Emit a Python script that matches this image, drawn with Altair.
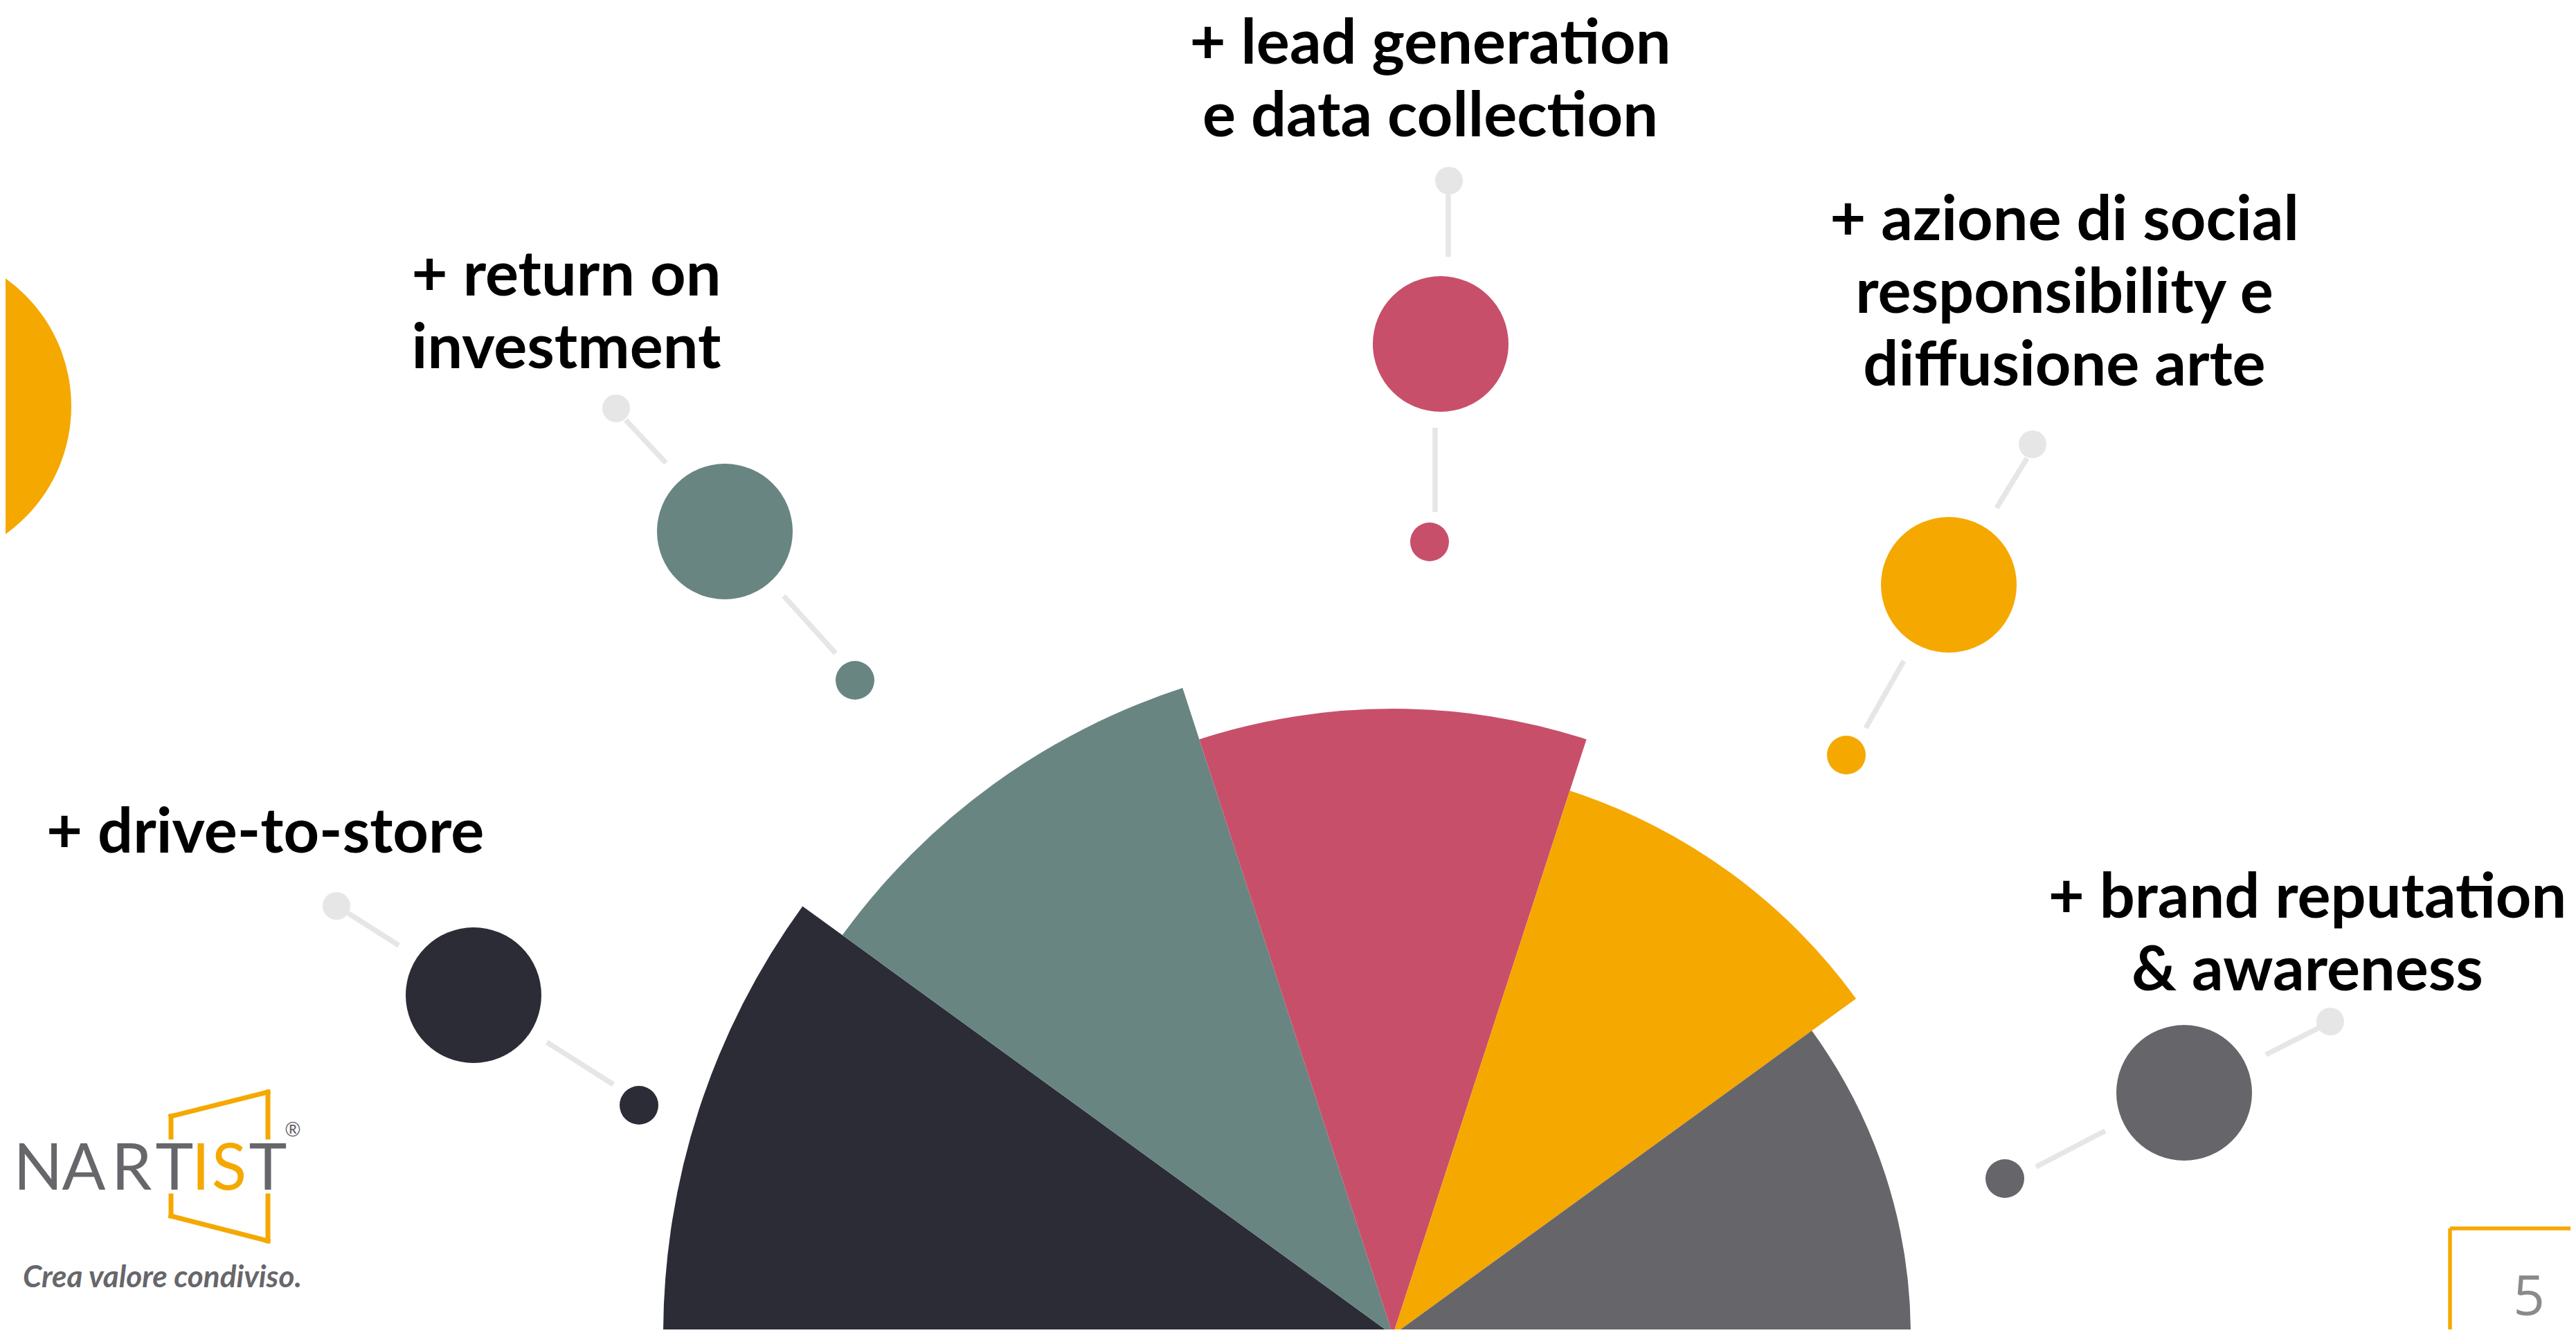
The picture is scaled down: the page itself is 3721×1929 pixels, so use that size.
import math
import pandas as pd
import altair as alt

# ---------------- data ----------------
categories = [
    "drive-to-store",
    "return on investment",
    "lead generation e data collection",
    "azione di social responsibility e diffusione arte",
    "brand reputation & awareness",
]
label_lines = [
    ["+ drive-to-store"],
    ["+ return on", "investment"],
    ["+ lead generation", "e data collection"],
    ["+ azione di social", "responsibility e", "diffusione arte"],
    ["+ brand reputation", "& awareness"],
]
wedge_radius = [1054, 983, 905, 827, 748]   # outer radius of each wedge (px)
wedge_share = [1, 1, 1, 1, 1]               # equal angular share
colors = ["#2c2c37", "#688582", "#c84f69", "#f5a800", "#666569"]

logo_letters = ["N", "A", "R", "T", "I", "S", "T"]
logo_letter_colors = ["#67666b", "#67666b", "#67666b", "#67666b", "#f5a800", "#f5a800", "#67666b"]
tagline = "Crea valore condiviso."
page_number = "5"

# ---------------- layout (slide pixel coordinates) ----------------
W, H = 3705, 1913
OFF = 8
pie_center = (2012, 1929)
label_anchor = [(67, 1232, "left"), (818, 427, "center"), (2066, 92, "center"),
                (2982, 347, "center"), (3333, 1326, "center")]
LINE_H = 105
big_dot = [(684, 1438), (1047, 768), (2081, 497), (2815, 845), (3155, 1579)]
small_dot = [(923, 1597), (1235, 983), (2065, 783), (2667, 1091), (2896, 1703)]
light_dot = [(486, 1309), (890, 590), (2093, 261), (2936, 642), (3366, 1476)]
link_out = [((502, 1319), (576, 1366)), ((904, 607), (962, 669)), ((2092, 279), (2092, 371)),
            ((2928, 662), (2884, 734)), ((3352, 1484), (3273, 1524))]
link_in = [((790, 1506), (886, 1567)), ((1132, 861), (1207, 944)), ((2073, 618), (2073, 740)),
           ((2750, 955), (2695, 1052)), ((3041, 1634), (2941, 1686))]
logo_letter_x = [55, 121, 190, 252, 290, 331, 387]
logo_frame = [(247, 1643, 247, 1613), (247, 1613, 387, 1578), (387, 1578, 387, 1643),
              (247, 1728, 247, 1757), (247, 1757, 387, 1793), (387, 1793, 387, 1728)]
page_frame = [(3539, 1775, 3740, 1775), (3539, 1775, 3539, 1940)]

xs = alt.Scale(domain=[OFF, OFF + W], range=[0, W])
ys = alt.Scale(domain=[OFF, OFF + H], range=[0, H])


def X(f):
    return alt.X(f, type="quantitative", scale=xs, axis=None)


def Y(f):
    return alt.Y(f, type="quantitative", scale=ys, axis=None)


# ---------------- wedges ----------------
wedges = pd.DataFrame({
    "cat": categories, "share": wedge_share, "r": wedge_radius,
    "color": colors, "idx": list(range(len(categories))),
})
total_share = sum(wedge_share)
theta_scale = alt.Scale(domain=[0, total_share], range=[-math.pi / 2, math.pi / 2])
arcs = alt.Chart(wedges).transform_window(
    cum="sum(share)", sort=[alt.SortField("idx")]
).transform_calculate(
    start="datum.cum - datum.share"
).mark_arc(stroke=None).encode(
    x=alt.value(pie_center[0] - OFF),
    y=alt.value(pie_center[1] - OFF),
    theta=alt.Theta("start:Q", scale=theta_scale, stack=None),
    theta2="cum:Q",
    radius=alt.Radius("r:Q", stack=None,
                      scale=alt.Scale(type="linear", domain=[0, max(wedge_radius)],
                                      range=[0, max(wedge_radius)])),
    color=alt.Color("color:N", scale=None),
)

# ---------------- decoration: left orange disk ----------------
disk = alt.Chart(pd.DataFrame({"x": [-124], "y": [587]})).mark_circle(
    color="#f5a800", opacity=1, size=454 ** 2
).encode(x=X("x"), y=Y("y"))

# ---------------- connector lines ----------------
rows = []
for seg in link_out + link_in:
    (x1, y1), (x2, y2) = seg
    rows.append({"x": x1, "y": y1, "x2": x2, "y2": y2})
links = alt.Chart(pd.DataFrame(rows)).mark_rule(color="#e6e6e6", strokeWidth=7.5).encode(
    x=X("x"), y=Y("y"), x2="x2:Q", y2="y2:Q")

# ---------------- dots ----------------
drows = []
for i, c in enumerate(colors):
    drows.append({"x": big_dot[i][0], "y": big_dot[i][1], "size": (2 * 98) ** 2, "color": c})
    drows.append({"x": small_dot[i][0], "y": small_dot[i][1], "size": (2 * 28) ** 2, "color": c})
    drows.append({"x": light_dot[i][0], "y": light_dot[i][1], "size": (2 * 20) ** 2, "color": "#e6e6e6"})
dots = alt.Chart(pd.DataFrame(drows)).mark_circle(opacity=1).encode(
    x=X("x"), y=Y("y"), size=alt.Size("size:Q", scale=None), color=alt.Color("color:N", scale=None))

# ---------------- labels ----------------
lrows = []
for i, lines in enumerate(label_lines):
    ax, ay, al = label_anchor[i]
    for j, t in enumerate(lines):
        lrows.append({"t": t, "x": ax, "y": ay + j * LINE_H, "align": al})
ldf = pd.DataFrame(lrows)
label_style = dict(font="Lato", fontSize=90, fontWeight="bold", color="#000000", baseline="alphabetic")
labels_left = alt.Chart(ldf[ldf["align"] == "left"]).mark_text(align="left", **label_style).encode(
    x=X("x"), y=Y("y"), text="t:N")
labels_center = alt.Chart(ldf[ldf["align"] == "center"]).mark_text(align="center", **label_style).encode(
    x=X("x"), y=Y("y"), text="t:N")

# ---------------- logo ----------------
logo_df = pd.DataFrame({"t": logo_letters, "x": logo_letter_x, "y": [1719] * 7, "color": logo_letter_colors})
logo_text = alt.Chart(logo_df).mark_text(font="Lato", fontSize=93, fontWeight=400, align="center",
                                         baseline="alphabetic").encode(
    x=X("x"), y=Y("y"), text="t:N", color=alt.Color("color:N", scale=None))
frame_df = pd.DataFrame([{"x": a, "y": b, "x2": c, "y2": d} for a, b, c, d in logo_frame])
logo_frame_l = alt.Chart(frame_df).mark_rule(color="#f5a800", strokeWidth=7, strokeCap="square").encode(
    x=X("x"), y=Y("y"), x2="x2:Q", y2="y2:Q")
reg = alt.Chart(pd.DataFrame({"t": ["®"], "x": [423], "y": [1634]})).mark_text(
    font="Lato", fontSize=28, color="#67666b", align="center", baseline="middle").encode(
    x=X("x"), y=Y("y"), text="t:N")
tag = alt.Chart(pd.DataFrame({"t": [tagline], "x": [33], "y": [1860]})).mark_text(
    font="Lato", fontSize=44, fontStyle="italic", fontWeight="bold", color="#67666b",
    align="left", baseline="alphabetic").encode(x=X("x"), y=Y("y"), text="t:N")

# ---------------- page number ----------------
pf_df = pd.DataFrame([{"x": a, "y": b, "x2": c, "y2": d} for a, b, c, d in page_frame])
page_frame_l = alt.Chart(pf_df).mark_rule(color="#f5a800", strokeWidth=5.5).encode(
    x=X("x"), y=Y("y"), x2="x2:Q", y2="y2:Q")
pnum = alt.Chart(pd.DataFrame({"t": [page_number], "x": [3653], "y": [1900]})).mark_text(
    font="Open Sans", fontSize=80, color="#8a8a8a", align="center", baseline="alphabetic").encode(
    x=X("x"), y=Y("y"), text="t:N")

chart = alt.layer(
    arcs, disk, links, dots, labels_left, labels_center,
    logo_frame_l, logo_text, reg, tag, page_frame_l, pnum,
).properties(
    width=W, height=H, padding=0, autosize=alt.AutoSizeParams(type="none"),
    background="#ffffff",
).configure_view(stroke=None)

chart.save("out.html", embed_options={"renderer": "svg", "actions": False})
